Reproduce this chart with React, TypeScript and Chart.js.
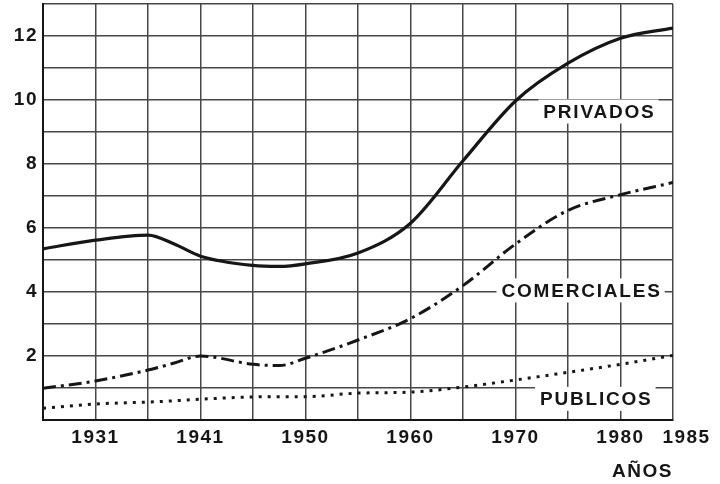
import { useEffect, useRef } from 'react';
import { Chart, registerables } from 'chart.js';

Chart.register(...registerables);

// ---- data ----
const years = [1925, 1930, 1935, 1937.5, 1940, 1945, 1947.5, 1950, 1955, 1960, 1965, 1970, 1975, 1980, 1985];
const privados = [5.35, 5.62, 5.78, 5.5, 5.12, 4.83, 4.8, 4.88, 5.22, 6.15, 8.1, 9.97, 11.15, 11.93, 12.25];
const comerciales = [0.99, 1.22, 1.56, 1.78, 2.0, 1.74, 1.7, 1.93, 2.5, 3.17, 4.2, 5.5, 6.55, 7.04, 7.42];
const publicos = [0.37, 0.5, 0.56, 0.6, 0.65, 0.72, 0.73, 0.73, 0.84, 0.87, 1.03, 1.25, 1.49, 1.74, 2.02];

const xTickValues = [1930, 1940, 1950, 1960, 1970, 1980, 1985];
const xTickTexts = ['1931', '1941', '1950', '1960', '1970', '1980', '    1985'];
const yTickValues = [2, 4, 6, 8, 10, 12];

const seriesNames = ['PRIVADOS', 'COMERCIALES', 'PUBLICOS'];
const axisTitle = 'AÑOS';

// ---- styling / placement ----
const FONT_FAMILY = '"Liberation Sans", Arial, Helvetica, sans-serif';
const INK = '#161616';
const GRID = '#474747';
const labelAnchors = [
  { x: 1977.9, y: 9.64 },
  { x: 1976.2, y: 4.05 },
  { x: 1977.6, y: 0.66 },
];

const seriesLabelPlugin = {
  id: 'seriesLabels',
  beforeDraw(chart: any) {
    chart.ctx.letterSpacing = '1.5px';
  },
  afterDatasetsDraw(chart: any) {
    const { ctx, scales } = chart;
    const xs = scales.x;
    const ys = scales.y;
    ctx.save();
    ctx.font = `bold 19px ${FONT_FAMILY}`;
    ctx.letterSpacing = '1.8px';
    ctx.textAlign = 'center';
    ctx.textBaseline = 'middle';
    seriesNames.forEach((name, i) => {
      const a = labelAnchors[i];
      const px = xs.getPixelForValue(a.x);
      const py = ys.getPixelForValue(a.y);
      const w = ctx.measureText(name).width;
      ctx.fillStyle = '#ffffff';
      ctx.fillRect(px - w / 2 - 4, py - 12, w + 8, 24);
      ctx.fillStyle = INK;
      ctx.fillText(name, px + 1, py + 1);
    });
    ctx.restore();
  },
};

export default function App() {
  const canvasRef = useRef<HTMLCanvasElement | null>(null);

  useEffect(() => {
    const canvas = canvasRef.current;
    if (!canvas) return;
    const toPoints = (vals: number[]) => years.map((yr, i) => ({ x: yr, y: vals[i] }));
    const font = { family: FONT_FAMILY, size: 19, weight: 'bold' as const };

    const chart = new Chart(canvas, {
      type: 'line',
      data: {
        datasets: [
          {
            label: seriesNames[0],
            data: toPoints(privados),
            borderColor: INK,
            borderWidth: 3.2,
            pointRadius: 0,
            cubicInterpolationMode: 'monotone',
            fill: false,
          },
          {
            label: seriesNames[1],
            data: toPoints(comerciales),
            borderColor: INK,
            borderWidth: 3,
            borderDash: [13, 5, 3, 5],
            pointRadius: 0,
            cubicInterpolationMode: 'monotone',
            fill: false,
          },
          {
            label: seriesNames[2],
            data: toPoints(publicos),
            borderColor: INK,
            borderWidth: 3,
            borderDash: [3, 6],
            pointRadius: 0,
            cubicInterpolationMode: 'monotone',
            fill: false,
          },
        ],
      },
      options: {
        responsive: false,
        animation: false,
        devicePixelRatio: 1,
        layout: { padding: { top: 4, right: 47, bottom: 0, left: 0 } },
        plugins: {
          legend: { display: false },
          tooltip: { enabled: false },
        },
        scales: {
          x: {
            type: 'linear',
            min: 1925,
            max: 1985,
            ticks: {
              stepSize: 5,
              autoSkip: false,
              maxRotation: 0,
              minRotation: 0,
              padding: 6,
              color: INK,
              font,
              callback: (v: any) => {
                const idx = xTickValues.indexOf(Number(v));
                return idx >= 0 ? xTickTexts[idx] : '';
              },
            },
            grid: { color: GRID, lineWidth: 1.5, drawTicks: false },
            border: { color: INK, width: 2 },
            title: {
              display: true,
              text: axisTitle,
              align: 'end',
              color: INK,
              font,
              padding: { top: 0, bottom: 1 },
            },
            afterFit: (s: any) => {
              s.height = 64;
              s.paddingLeft = 0;
              s.paddingRight = 0;
            },
          },
          y: {
            type: 'linear',
            min: 0,
            max: 13,
            ticks: {
              stepSize: 1,
              padding: 5,
              color: INK,
              font,
              callback: (v: any) => (yTickValues.includes(Number(v)) ? String(v) : ''),
            },
            grid: { color: GRID, lineWidth: 1.5, drawTicks: false },
            border: { color: INK, width: 2 },
            afterFit: (s: any) => {
              s.width = 43;
              s.paddingTop = 0;
              s.paddingBottom = 0;
            },
          },
        },
      },
      plugins: [seriesLabelPlugin],
    });

    return () => chart.destroy();
  }, []);

  return (
    <div style={{ position: 'fixed', left: 0, top: 0, width: 720, height: 484, background: '#fff' }}>
      <canvas ref={canvasRef} width={720} height={484} style={{ display: 'block' }} />
    </div>
  );
}
